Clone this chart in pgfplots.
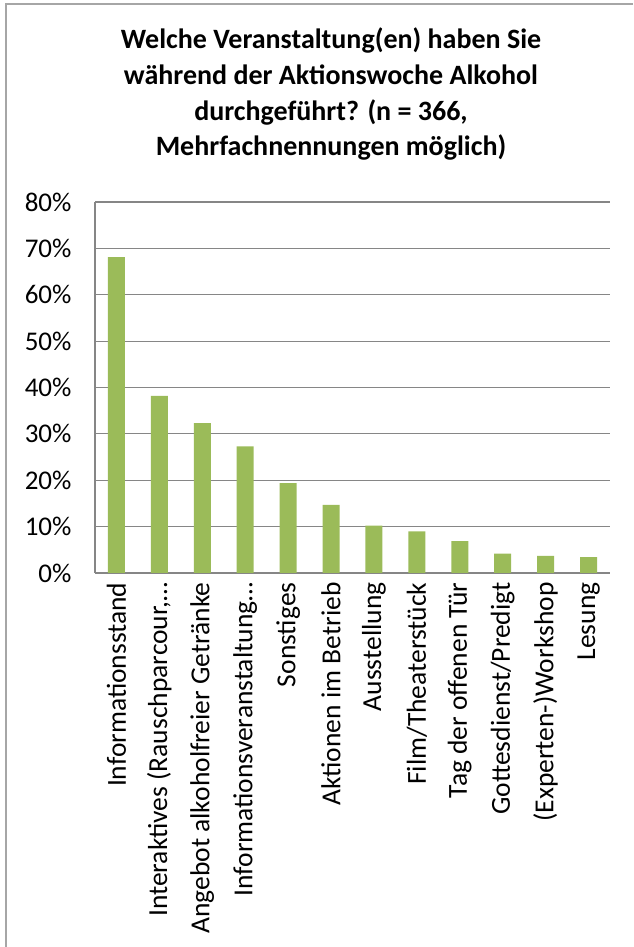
\documentclass[border=0pt]{standalone}
\usepackage{fontspec}
\setmainfont{Carlito}
\usepackage{pgfplots}
\pgfplotsset{compat=1.18}
\definecolor{barg}{HTML}{9BBB59}
\definecolor{gridc}{HTML}{868686}
\definecolor{framec}{HTML}{A6A6A6}
\begin{document}
\begin{tikzpicture}[x=1pt,y=1pt]
\useasboundingbox (0,0) rectangle (633,947);
\draw[framec, line width=1.5pt] (6,0) -- (6,943) -- (633,943);
\begin{scope}[every node/.style={anchor=base, font=\fontsize{28}{32}\selectfont\bfseries, inner sep=0pt}]
\node at (331,898) {Welche Veranstaltung(en) haben Sie};
\node at (331,862) {während der Aktionswoche Alkohol};
\node at (331,826) {durchgeführt? (n = 366,};
\node at (331,791) {Mehrfachnennungen möglich)};
\end{scope}
\begin{axis}[
  at={(95pt,374pt)}, anchor=south west,
  scale only axis, width=515pt, height=371pt,
  ybar, bar width=17pt,
  xmin=-0.5, xmax=11.5, ymin=0, ymax=80,
  ytick={0,10,...,80},
  /pgf/number format/assume math mode=true,
  yticklabel={\pgfmathprintnumber{\tick}\%},
  xtick={0,...,11},
  xticklabels={Informationsstand,
    {Interaktives (Rauschparcour,…\hspace{-11pt}},
    Angebot alkoholfreier Getränke,
    {Informationsveranstaltung…\hspace{-11pt}},
    Sonstiges,
    Aktionen im Betrieb,
    Ausstellung,
    Film/Theaterstück,
    Tag der offenen Tür,
    Gottesdienst/Predigt,
    (Experten-)Workshop,
    Lesung},
  xticklabel style={rotate=90, anchor=east, font=\fontsize{27.5}{30}\selectfont},
  yticklabel style={font=\fontsize{27}{30}\selectfont},
  xticklabel shift=6pt,
  yticklabel shift=20pt,
  major tick length=0pt,
  ymajorgrids,
  grid style={gridc, line width=1.2pt},
  axis x line*=bottom, axis y line*=left,
  axis line style={gridc, line width=1.2pt, -},
]
\addplot[fill=barg, draw=none] coordinates {
(0,68.1) (1,38.2) (2,32.3) (3,27.3) (4,19.4) (5,14.7)
(6,10.2) (7,9.0) (8,6.9) (9,4.2) (10,3.7) (11,3.4)};
\end{axis}
\end{tikzpicture}
\end{document}
